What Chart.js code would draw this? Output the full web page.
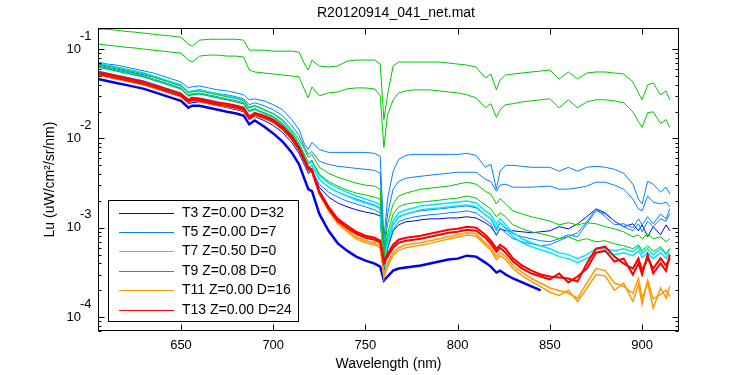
<!DOCTYPE html>
<html>
<head>
<meta charset="utf-8">
<script src="https://cdn.jsdelivr.net/npm/chart.js@4.4.0/dist/chart.umd.min.js"></script>
<style>
html, body { margin:0; padding:0; background:#ffffff; }
#specCanvas { display:block; }
</style>
</head>
<body>
<canvas id="specCanvas" width="750" height="375" style="width:750px;height:375px;"></canvas>
<script>
// wavelength grid (nm)
var wavelength = [605,610,615,620,625,630,635,640,645,650,
654,656,660,665,670,675,680,684,687,690,
695,700,705,710,714,717,719,721,725,730,
735,740,745,750,755,758,760,762,765,768,
772,776,780,785,790,795,800,805,810,815,
818,821,823,826,830,835,840,845,850,855,
860,865,870,875,880,885,890,895,898,900,
903,906,910,913,915];

var xTicks = [650,700,750,800,850,900];
var yTicks = [1e-4,1e-3,1e-2,1e-1];
var yTickExp = ['-4','-3','-2','-1'];

var legendLabels = ['T3 Z=0.00 D=32','T5 Z=0.00 D=7','T7 Z=0.50 D=0','T9 Z=0.08 D=0','T11 Z=0.00 D=16','T13 Z=0.00 D=24'];
var legendColors = ['#0000f0','#0080ff','#00e6ff','#00c800','#ff9900','#ff0000'];

// T3
var t3_1 = [0.0464,0.0441,0.0419,0.0398,0.0378,0.0359,0.0332,0.0308,0.0285,0.0264,
0.0221,0.0233,0.0233,0.0221,0.0210,0.0199,0.0190,0.0180,0.0144,0.0159,
0.0136,0.0114,0.00926,0.00699,0.00514,0.00350,0.00271,0.00257,0.00143,0.000926,
0.000670,0.000555,0.000476,0.000430,0.000398,0.000368,0.000257,0.000285,0.000332,0.000350,
0.000359,0.000368,0.000378,0.000398,0.000419,0.000441,0.000452,0.000488,0.000476,0.000408,
0.000368,0.000316,0.000332,0.000300,0.000271,0.000245,0.000221,0.000199,null,null,
null,null,null,null,null,null,null,null,null,null,
null,null,null,null,null];
var t3_2 = [0.0514,0.0488,0.0464,0.0441,0.0419,0.0398,0.0368,0.0341,0.0316,0.0293,
0.0245,0.0251,0.0257,0.0245,0.0233,0.0221,0.0210,0.0199,0.0163,0.0176,
0.0159,0.0140,0.0117,0.00903,0.00681,0.00501,0.00408,0.00430,0.00285,0.00221,
0.00190,0.00172,0.00159,0.00150,0.00143,0.00136,0.000350,0.000584,0.000926,0.00108,
0.00117,0.00119,0.00123,0.00126,0.00126,0.00129,0.00129,0.00133,0.00129,0.00114,
0.00103,0.000836,0.000975,0.000926,0.000926,0.000903,0.000880,0.000903,0.000926,0.00103,
0.000975,0.00111,0.00133,0.00163,0.00147,0.00119,0.00103,0.00111,0.000926,0.00108,
0.000794,0.00103,0.000836,0.00108,0.000926];

// T5
var t5_1 = [0.0717,0.0681,0.0664,0.0631,0.0599,0.0569,0.0541,0.0501,0.0464,0.0430,
0.0368,0.0378,0.0388,0.0368,0.0350,0.0341,0.0324,0.0308,0.0271,0.0278,
0.0264,0.0239,0.0210,0.0163,0.0126,0.00858,0.00755,0.00903,0.00755,0.00699,
0.00699,0.00699,0.00699,0.00699,0.00681,0.00631,0.000755,0.00210,0.00430,0.00584,
0.00647,0.00664,0.00664,0.00664,0.00664,0.00664,0.00664,0.00681,0.00647,0.00476,
0.00514,0.00271,0.00430,0.00501,0.00501,0.00488,0.00476,0.00476,0.00476,0.00430,
0.00476,0.00430,0.00476,0.00488,0.00476,0.00452,0.00408,0.00308,0.00210,0.00185,
0.00332,0.00308,0.00251,0.00285,0.00239];
var t5_2 = [0.0664,0.0631,0.0599,0.0569,0.0541,0.0514,0.0488,0.0452,0.0419,0.0388,
0.0332,0.0341,0.0350,0.0332,0.0316,0.0308,0.0293,0.0278,0.0239,0.0251,
0.0233,0.0210,0.0180,0.0140,0.0108,0.00794,0.00664,0.00717,0.00555,0.00514,
0.00488,0.00476,0.00463,0.00452,0.00440,0.00408,0.000584,0.00143,0.00271,0.00332,
0.00359,0.00370,0.00378,0.00388,0.00398,0.00408,0.00419,0.00419,0.00419,0.00350,
0.00330,0.00257,0.00300,0.00308,0.00285,0.00285,0.00285,0.00290,0.00293,0.00271,
0.00271,0.00280,0.00293,0.00324,0.00324,0.00300,0.00271,0.00210,0.00163,0.00155,
0.00227,0.00194,0.00185,0.00194,0.00172];
var t5_3 = [0.0647,0.0615,0.0584,0.0555,0.0527,0.0501,0.0464,0.0430,0.0398,0.0368,
0.0308,0.0316,0.0324,0.0308,0.0293,0.0278,0.0264,0.0251,0.0204,0.0215,
0.0194,0.0176,0.0147,0.0111,0.00815,0.00584,0.00476,0.00501,0.00350,0.00285,
0.00251,0.00227,0.00210,0.00194,0.00180,0.00167,0.000350,0.000670,0.00108,0.00133,
0.00143,0.00150,0.00155,0.00159,0.00163,0.00167,0.00172,0.00176,0.00167,0.00140,
0.00126,0.000926,0.00114,0.00100,0.000858,0.000794,0.000755,0.000717,0.000699,0.000755,
0.000836,0.000794,0.00111,0.00155,0.00143,0.00119,0.00103,0.000926,0.00111,0.000903,
0.00119,0.00103,0.00126,0.00119,0.00143];
var t5_4 = [0.0569,0.0541,0.0514,0.0488,0.0464,0.0441,0.0408,0.0378,0.0350,0.0324,
0.0271,0.0278,0.0285,0.0271,0.0257,0.0245,0.0233,0.0221,0.0180,0.0190,
0.0172,0.0155,0.0129,0.00975,0.00717,0.00514,0.00419,0.00441,0.00308,0.00251,
0.00221,0.00199,0.00185,0.00172,0.00159,0.00147,0.000308,0.000590,0.000950,0.00117,
0.00126,0.00132,0.00136,0.00140,0.00143,0.00147,0.00150,0.00155,0.00147,0.00123,
0.00111,0.000815,0.00100,0.000880,0.000755,0.000699,0.000664,0.000631,0.000647,0.000717,
0.000794,0.000880,0.00117,0.00163,0.00133,0.00108,0.00111,0.00100,0.00126,0.00108,
0.00133,0.00111,0.00143,0.00126,0.00163];

// T7
var t7_1 = [0.0699,0.0664,0.0631,0.0599,0.0569,0.0541,0.0501,0.0464,0.0430,0.0398,
0.0332,0.0341,0.0350,0.0332,0.0316,0.0300,0.0285,0.0271,0.0221,0.0233,
0.0210,0.0190,0.0159,0.0119,0.00880,0.00647,0.00514,0.00555,0.00388,0.00316,
0.00278,0.00251,0.00227,0.00210,0.00194,0.00180,0.000430,0.000755,0.00119,0.00147,
0.00159,0.00167,0.00176,0.00180,0.00185,0.00190,0.00194,0.00199,0.00190,0.00155,
0.00140,0.00111,0.00126,0.00108,0.000880,0.000755,0.000681,0.000631,0.000584,0.000527,
0.000501,0.000452,0.000501,0.000584,0.000584,0.000555,0.000584,0.000541,0.000615,0.000514,
0.000584,0.000501,0.000584,0.000501,0.000584];
var t7_2 = [0.0631,0.0599,0.0569,0.0541,0.0514,0.0488,0.0452,0.0419,0.0388,0.0359,
0.0300,0.0308,0.0316,0.0300,0.0285,0.0271,0.0257,0.0245,0.0199,0.0210,
0.0190,0.0172,0.0143,0.0108,0.00794,0.00584,0.00464,0.00501,0.00350,0.00285,
0.00251,0.00227,0.00204,0.00190,0.00176,0.00163,0.000388,0.000681,0.00108,0.00133,
0.00143,0.00150,0.00159,0.00163,0.00167,0.00172,0.00176,0.00180,0.00172,0.00140,
0.00126,0.00100,0.00114,0.000975,0.000794,0.000681,0.000615,0.000569,0.000527,0.000476,
0.000452,0.000408,0.000452,0.000527,0.000541,0.000501,0.000527,0.000488,0.000555,0.000464,
0.000527,0.000452,0.000527,0.000452,0.000527];

// T9
var t9_1 = [0.167,0.167,0.163,0.158,0.155,0.151,0.147,0.143,0.140,0.136,
0.114,0.108,0.126,0.129,0.129,0.129,0.129,0.126,0.0975,0.0975,
0.0975,0.0950,0.0950,0.0950,0.0926,0.0681,0.0584,0.0755,0.0647,0.0631,
0.0647,0.0735,0.0755,0.0755,0.0755,0.0681,0.0163,0.0308,0.0647,0.0717,
0.0717,0.0717,0.0717,0.0717,0.0717,0.0699,0.0681,0.0664,0.0631,0.0476,
0.0527,0.0350,0.0452,0.0514,0.0527,0.0541,0.0555,0.0569,0.0584,0.0464,
0.0555,0.0464,0.0541,0.0555,0.0555,0.0541,0.0527,0.0430,0.0324,0.0271,
0.0398,0.0419,0.0308,0.0341,0.0271];
var t9_2 = [0.114,0.111,0.108,0.105,0.103,0.100,0.0975,0.0950,0.0926,0.0903,
0.0755,0.0717,0.0836,0.0858,0.0858,0.0836,0.0836,0.0815,0.0584,0.0555,
0.0541,0.0527,0.0514,0.0501,0.0488,0.0350,0.0285,0.0378,0.0300,0.0324,
0.0332,0.0359,0.0368,0.0368,0.0359,0.0300,0.00794,0.0185,0.0271,0.0324,
0.0341,0.0350,0.0350,0.0350,0.0341,0.0332,0.0324,0.0308,0.0285,0.0221,
0.0245,0.0172,0.0210,0.0239,0.0245,0.0257,0.0264,0.0271,0.0278,0.0221,
0.0271,0.0221,0.0257,0.0271,0.0271,0.0264,0.0251,0.0199,0.0155,0.0133,
0.0194,0.0199,0.0147,0.0163,0.0133];
var t9_3 = [0.0681,0.0647,0.0615,0.0584,0.0555,0.0527,0.0488,0.0452,0.0419,0.0388,
0.0324,0.0332,0.0341,0.0324,0.0308,0.0293,0.0278,0.0264,0.0221,0.0233,
0.0210,0.0190,0.0163,0.0126,0.00975,0.00755,0.00615,0.00664,0.00476,0.00408,
0.00368,0.00341,0.00316,0.00300,0.00293,0.00271,0.000514,0.00111,0.00185,0.00227,
0.00245,0.00257,0.00271,0.00278,0.00285,0.00293,0.00308,0.00324,0.00308,0.00257,
0.00239,0.00185,0.00212,0.00185,0.00155,0.00143,0.00133,0.00126,0.00119,0.00108,
0.00114,0.00108,0.00114,0.00111,0.00103,0.000975,0.000903,0.000794,0.000836,0.000755,
0.000858,0.000755,0.000794,0.000699,0.000755];
var t9_4 = [0.0631,0.0599,0.0569,0.0541,0.0514,0.0488,0.0452,0.0419,0.0388,0.0359,
0.0300,0.0308,0.0316,0.0300,0.0285,0.0271,0.0257,0.0245,0.0204,0.0215,
0.0194,0.0176,0.0147,0.0114,0.00858,0.00647,0.00541,0.00569,0.00398,0.00332,
0.00293,0.00264,0.00245,0.00233,0.00221,0.00210,0.000476,0.000858,0.00143,0.00172,
0.00185,0.00190,0.00194,0.00199,0.00204,0.00210,0.00215,0.00227,0.00215,0.00180,
0.00163,0.00133,0.00147,0.00133,0.00108,0.000975,0.000903,0.000858,0.000815,0.000755,
0.000794,0.000717,0.000755,0.000699,0.000717,0.000664,0.000631,0.000584,0.000647,0.000555,
0.000631,0.000541,0.000615,0.000514,0.000584];

// T11
var t11_1 = [0.0541,0.0514,0.0488,0.0464,0.0441,0.0419,0.0388,0.0359,0.0332,0.0308,
0.0264,0.0278,0.0271,0.0257,0.0245,0.0239,0.0227,0.0215,0.0172,0.0190,
0.0176,0.0159,0.0132,0.0103,0.00774,0.00569,0.00464,0.00441,0.00251,0.00163,
0.00117,0.000950,0.000794,0.000717,0.000681,0.000631,0.000300,0.000400,0.000527,0.000599,
0.000647,0.000664,0.000681,0.000717,0.000755,0.000794,0.000836,0.000880,0.000858,0.000681,
0.000599,0.000476,0.000527,0.000476,0.000378,0.000316,0.000271,0.000241,0.000212,0.000199,
0.000185,0.000163,0.000241,0.000350,0.000332,0.000241,0.000221,0.000185,0.000271,0.000163,
0.000241,0.000126,0.000212,0.000163,0.000221];
var t11_2 = [0.0514,0.0488,0.0464,0.0441,0.0419,0.0398,0.0368,0.0341,0.0316,0.0293,
0.0251,0.0264,0.0257,0.0245,0.0233,0.0227,0.0215,0.0204,0.0163,0.0180,
0.0167,0.0150,0.0126,0.00975,0.00735,0.00541,0.00441,0.00419,0.00239,0.00155,
0.00111,0.000903,0.000755,0.000681,0.000647,0.000599,0.000271,0.000370,0.000490,0.000560,
0.000600,0.000620,0.000640,0.000670,0.000710,0.000750,0.000790,0.000830,0.000810,0.000640,
0.000560,0.000440,0.000490,0.000440,0.000350,0.000290,0.000250,0.000220,0.000190,0.000175,
0.000200,0.000150,0.000210,0.000300,0.000290,0.000200,0.000240,0.000150,0.000230,0.000140,
0.000260,0.000160,0.000180,0.000200,0.000170];

// T13
var t13_1 = [0.0555,0.0527,0.0501,0.0476,0.0452,0.0430,0.0398,0.0368,0.0341,0.0316,
0.0271,0.0285,0.0278,0.0264,0.0251,0.0245,0.0233,0.0221,0.0176,0.0194,
0.0180,0.0163,0.0136,0.0106,0.00794,0.00584,0.00476,0.00452,0.00257,0.00172,
0.00126,0.00106,0.000903,0.000815,0.000774,0.000717,0.000430,0.000514,0.000647,0.000735,
0.000774,0.000794,0.000815,0.000858,0.000903,0.000950,0.000975,0.00103,0.00100,0.000836,
0.000717,0.000584,0.000647,0.000584,0.000452,0.000378,0.000332,0.000300,0.000285,0.000278,
0.000271,0.000251,0.000398,0.000584,0.000615,0.000476,0.000398,0.000350,0.000456,0.000332,
0.000456,0.000350,0.000456,0.000378,0.000456];
var t13_2 = [0.0527,0.0501,0.0476,0.0452,0.0430,0.0408,0.0378,0.0350,0.0324,0.0300,
0.0257,0.0271,0.0264,0.0251,0.0239,0.0233,0.0221,0.0210,0.0167,0.0185,
0.0172,0.0155,0.0129,0.0100,0.00755,0.00555,0.00452,0.00430,0.00245,0.00163,
0.00119,0.00100,0.000858,0.000774,0.000735,0.000681,0.000400,0.000476,0.000599,0.000681,
0.000717,0.000735,0.000755,0.000794,0.000836,0.000880,0.000903,0.000950,0.000926,0.000774,
0.000664,0.000541,0.000599,0.000527,0.000419,0.000350,0.000308,0.000285,0.000264,0.000308,
0.000245,0.000285,0.000350,0.000527,0.000555,0.000419,0.000452,0.000300,0.000400,0.000300,
0.000500,0.000310,0.000400,0.000330,0.000500];

var seriesList = [
  { data: t3_1, color: legendColors[0], width: 2.5 },
  { data: t3_2, color: legendColors[0], width: 1 },
  { data: t5_1, color: legendColors[1], width: 1 },
  { data: t5_2, color: legendColors[1], width: 1 },
  { data: t5_3, color: legendColors[1], width: 1 },
  { data: t5_4, color: legendColors[1], width: 1 },
  { data: t7_1, color: legendColors[2], width: 1.5 },
  { data: t7_2, color: legendColors[2], width: 1.5 },
  { data: t9_1, color: legendColors[3], width: 1 },
  { data: t9_2, color: legendColors[3], width: 1 },
  { data: t9_3, color: legendColors[3], width: 1 },
  { data: t9_4, color: legendColors[3], width: 1 },
  { data: t11_1, color: legendColors[4], width: 1.5 },
  { data: t11_2, color: legendColors[4], width: 1.5 },
  { data: t13_1, color: legendColors[5], width: 2 },
  { data: t13_2, color: legendColors[5], width: 2 }
];

var FONT = '"Liberation Sans", Arial, Helvetica, sans-serif';

(function () {
  'use strict'

  var datasets = [];
  for (var i = 0; i < seriesList.length; i++) {
    var pts = [];
    for (var j = 0; j < wavelength.length; j++) {
      pts.push({ x: wavelength[j], y: seriesList[i].data[j] });
    }
    datasets.push({
      data: pts,
      borderColor: seriesList[i].color,
      borderWidth: seriesList[i].width,
      fill: false,
      spanGaps: false
    });
  }
  // later series are drawn on top (like the plot order)
  datasets.reverse();

  var axesPlugin = {
    id: 'axesPlugin',
    afterDatasetsDraw: function (chart) {
      var ctx = chart.ctx;
      var a = chart.chartArea;
      var xs = chart.scales.x, ys = chart.scales.y;
      var L = Math.round(a.left) + 0.5, R = Math.round(a.right) - 0.5;
      var T = Math.round(a.top) + 0.5, B = Math.round(a.bottom) - 0.5;
      ctx.save();
      ctx.strokeStyle = '#000000';
      ctx.fillStyle = '#000000';
      ctx.lineWidth = 1;
      ctx.strokeRect(L, T, R - L, B - T);

      // x ticks, inside, top and bottom
      ctx.beginPath();
      for (var i = 0; i < xTicks.length; i++) {
        var px = Math.round(xs.getPixelForValue(xTicks[i])) + 0.5;
        ctx.moveTo(px, B); ctx.lineTo(px, B - 6);
        ctx.moveTo(px, T); ctx.lineTo(px, T + 6);
      }
      // y major and minor ticks, left and right
      for (var d = -5; d <= 0; d++) {
        for (var m = 1; m <= 9; m++) {
          var v = m * Math.pow(10, d);
          if (v < ys.min || v > ys.max) continue;
          var py = Math.round(ys.getPixelForValue(v)) + 0.5;
          var len = (m === 1) ? 6 : 3;
          ctx.moveTo(L, py); ctx.lineTo(L + len, py);
          ctx.moveTo(R, py); ctx.lineTo(R - len, py);
        }
      }
      ctx.stroke();

      // tick labels
      ctx.font = '13px ' + FONT;
      ctx.textBaseline = 'middle';
      ctx.textAlign = 'center';
      for (var k = 0; k < xTicks.length; k++) {
        ctx.fillText(String(xTicks[k]), xs.getPixelForValue(xTicks[k]), 345);
      }
      for (var n = 0; n < yTicks.length; n++) {
        var ty = ys.getPixelForValue(yTicks[n]);
        ctx.textAlign = 'right';
        ctx.fillText('10', 81, ty);
        ctx.textAlign = 'left';
        ctx.fillText(yTickExp[n], 80, ty - 13);
      }

      // title and axis labels
      ctx.font = '14px ' + FONT;
      ctx.textAlign = 'center';
      ctx.fillText('R20120914_041_net.mat', 396, 13);
      ctx.fillText('Wavelength (nm)', (a.left + a.right) / 2, 364);
      ctx.save();
      ctx.translate(50, (a.top + a.bottom) / 2);
      ctx.rotate(-Math.PI / 2);
      ctx.fillText('Lu (uW/cm\u00b2/sr/nm)', 0, 0);
      ctx.restore();

      // legend box
      var bx = 108.5, by = 200.5, bw = 190, bh = 121;
      ctx.fillStyle = '#ffffff';
      ctx.fillRect(bx, by, bw, bh);
      ctx.strokeStyle = '#000000';
      ctx.strokeRect(bx, by, bw, bh);
      ctx.font = '14px ' + FONT;
      ctx.textAlign = 'left';
      for (var g = 0; g < legendLabels.length; g++) {
        var ly = Math.round(212.5 + g * 19.4) + 0.5;
        ctx.strokeStyle = legendColors[g];
        ctx.lineWidth = 1;
        ctx.beginPath();
        ctx.moveTo(119, ly); ctx.lineTo(174, ly);
        ctx.stroke();
        ctx.fillStyle = '#000000';
        ctx.fillText(legendLabels[g], 182, ly);
      }
      ctx.restore();
    }
  };

  var ctx = document.getElementById('specCanvas').getContext('2d');
  var specChart = new Chart(ctx, {
    type: 'line',
    data: { datasets: datasets },
    options: {
      responsive: false,
      animation: false,
      devicePixelRatio: 1,
      layout: { padding: { left: 98, top: 28, right: 71, bottom: 44 } },
      scales: {
        x: { type: 'linear', min: 605, max: 920, display: false },
        y: { type: 'logarithmic', min: 7.41e-5, max: 0.1725, display: false }
      },
      elements: {
        point: { radius: 0 },
        line: { tension: 0 }
      },
      plugins: {
        legend: { display: false },
        tooltip: { enabled: false },
        title: { display: false }
      }
    },
    plugins: [axesPlugin]
  });
})()
</script>
</body>
</html>
